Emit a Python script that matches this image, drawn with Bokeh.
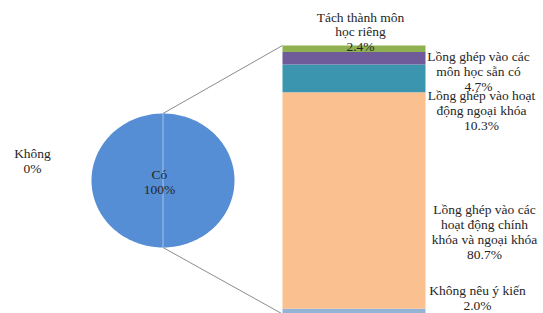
import numpy as np
from bokeh.plotting import figure
from bokeh.models import Range1d, ColumnDataSource
from bokeh.core.properties import value
from bokeh.embed import file_html
from bokeh.resources import INLINE

# ---- data ----
pie_labels = ["Có", "Không"]
pie_values = [100, 0]
pie_colors = ["#558ed5", "#c0504d"]

bar_labels = ["Không nêu ý kiến", "Lồng ghép vào các\nhoạt động chính\nkhóa và ngoại khóa",
              "Lồng ghép vào hoạt\nđộng ngoại khóa", "Lồng ghép vào các\nmôn học sẵn có",
              "Tách thành môn\nhọc riêng"]
bar_values = [2.0, 80.7, 10.3, 4.7, 2.4]
bar_colors = ["#95b3d7", "#fac090", "#3b95ae", "#6f5a9a", "#8fb14f"]

# ---- layout (image pixel frame) ----
W, H = 543, 313
X0, X1 = 0, 543
Y0, Y1 = 0, 313
pie_cx, pie_cy, pie_rx, pie_ry = 162.5, 180, 71.5, 67
bar_left, bar_right, bar_bottom, bar_top = 282, 425, 313.5, 45

bar_label_pos = [(477, 297.5), (484, 231.5), (481, 110), (478, 71), (360, 31.5)]
pie_label_pos = [(159, 181.5), (32, 160.5)]

p = figure(width=W, height=H, output_backend="svg", toolbar_location=None,
           x_range=Range1d(X0, X1), y_range=Range1d(Y1, Y0),
           min_border=0, outline_line_color=None)
p.axis.visible = False
p.grid.visible = False
p.background_fill_color = "white"
p.border_fill_color = "white"

# bar percent range mapped onto the pixel frame
total = sum(bar_values)
k = (bar_bottom - bar_top) / total
p.extra_y_ranges = {"pct": Range1d((bar_bottom - Y1) / k, (bar_bottom - Y0) / k)}

# pie as elliptical wedges from values
ptot = sum(pie_values)
start = np.pi / 2
xs, ys, cols = [], [], []
for v, c in zip(pie_values, pie_colors):
    span = 2 * np.pi * v / ptot
    if span <= 0:
        continue
    t = np.linspace(start, start - span, 200)
    px = list(pie_cx + pie_rx * np.cos(t))
    py = list(pie_cy - pie_ry * np.sin(t))
    if v < ptot:
        px = [pie_cx] + px
        py = [pie_cy] + py
    xs.append(px); ys.append(py); cols.append(c)
    start -= span
p.patches(xs=xs, ys=ys, fill_color=cols, line_color=None)

# separator line in pie
p.segment(x0=[pie_cx], y0=[pie_cy - pie_ry], x1=[pie_cx], y1=[pie_cy + pie_ry],
          line_color="#a9c1e3", line_width=1)

# connector lines
p.segment(x0=[pie_cx, pie_cx], y0=[pie_cy - pie_ry, pie_cy + pie_ry],
          x1=[bar_left, bar_left], y1=[bar_top, bar_bottom],
          line_color="#8c8c8c", line_width=1)

# stacked bar
bottoms = np.concatenate([[0], np.cumsum(bar_values)[:-1]])
tops = np.cumsum(bar_values)
src = ColumnDataSource(dict(bottom=bottoms, top=tops, color=bar_colors))
p.quad(left=bar_left, right=bar_right, bottom="bottom", top="top", fill_color="color",
       line_color=None, source=src, y_range_name="pct")

lbl = ColumnDataSource(dict(
    x=[q[0] for q in bar_label_pos] + [q[0] for q in pie_label_pos],
    y=[q[1] for q in bar_label_pos] + [q[1] for q in pie_label_pos],
    text=[f"{l}\n{v:.1f}%" for l, v in zip(bar_labels, bar_values)]
         + [f"{l}\n{v}%" for l, v in zip(pie_labels, pie_values)],
))
p.text(x="x", y="y", text="text", source=lbl,
       text_font=value("Liberation Serif"),
       text_font_size="13.5px", text_color="#262626",
       text_align="center", text_baseline="middle", text_line_height=0.98)

open("out.html", "w").write(file_html(p, INLINE))
